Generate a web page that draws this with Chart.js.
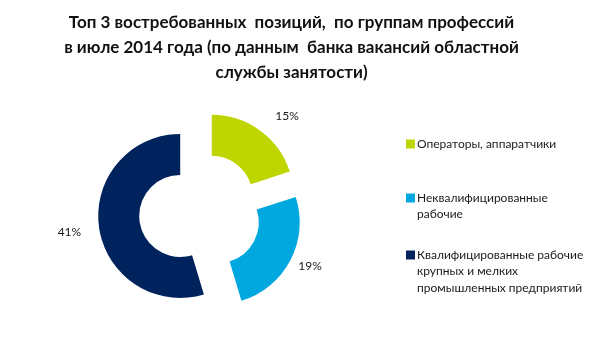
<!DOCTYPE html>
<html lang="ru">
<head>
<meta charset="utf-8">
<script src="https://cdn.jsdelivr.net/npm/chart.js@4"></script>
<style>
  html, body { margin: 0; padding: 0; background: #ffffff; }
  #wrap { position: relative; width: 601px; height: 348px; overflow: hidden; }
  #title {
    position: absolute; left: 0; top: 9px; width: 583px;
    text-align: center; white-space: pre;
    font-family: Lato, sans-serif; font-weight: 700;
    font-size: 17px; line-height: 25px; color: #111111;
  }
  #chart { position: absolute; left: 0; top: 0; }
</style>
</head>
<body>
<div id="wrap">
  <canvas id="chart" width="601" height="348"></canvas>
  <div id="title">Топ 3 востребованных  позиций,  по группам профессий
в июле 2014 года (по данным  банка вакансий областной
службы занятости)</div>
</div>
<script>
// Groups of professions (legend lines) and their share, %
const categories = [
  ["Операторы, аппаратчики"],
  ["Неквалифицированные", "рабочие"],
  ["Квалифицированные рабочие", "крупных и мелких", "промышленных предприятий"],
];
const shares = [15, 19, 41];
const colors = ["#bfd500", "#00a8df", "#00235d"];

// layout constants
const EXPLODE = 20;               // how far each slice is pulled out
const LABEL_DIST = [130, 122, 132];
const LABEL_TURN = [6, -2, 0];    // degrees
const LEGEND_X = 406;
const LEGEND_Y = [144, 198, 255];
const LEGEND_LINE = 16.5;
const TEXT_FONT = '12px Lato, sans-serif';

// pull every slice away from the centre along its middle angle
const explode = {
  id: "explode",
  afterDatasetUpdate(chart, args) {
    args.meta.data.forEach((arc) => {
      const mid = (arc.startAngle + arc.endAngle) / 2;
      arc.x += Math.cos(mid) * EXPLODE;
      arc.y += Math.sin(mid) * EXPLODE;
    });
  },
};

// percent labels outside the ring
const percentLabels = {
  id: "percentLabels",
  afterDatasetsDraw(chart) {
    const ctx = chart.ctx;
    const meta = chart.getDatasetMeta(0);
    const cx = (chart.chartArea.left + chart.chartArea.right) / 2;
    const cy = (chart.chartArea.top + chart.chartArea.bottom) / 2;
    ctx.save();
    ctx.font = TEXT_FONT;
    ctx.fillStyle = "#1a1a1a";
    ctx.textAlign = "center";
    ctx.textBaseline = "middle";
    meta.data.forEach((arc, i) => {
      const a = (arc.startAngle + arc.endAngle) / 2 + (LABEL_TURN[i] * Math.PI) / 180;
      const x = cx + Math.cos(a) * LABEL_DIST[i];
      const y = cy + Math.sin(a) * LABEL_DIST[i];
      ctx.fillText(chart.data.datasets[0].data[i] + "%", x, y);
    });
    ctx.restore();
  },
};

// legend on the right, one coloured square per group
const sideLegend = {
  id: "sideLegend",
  afterDraw(chart) {
    const ctx = chart.ctx;
    const ds = chart.data.datasets[0];
    ctx.save();
    ctx.font = TEXT_FONT;
    ctx.textBaseline = "middle";
    ctx.textAlign = "left";
    chart.data.labels.forEach((lines, i) => {
      const y0 = LEGEND_Y[i];
      ctx.fillStyle = ds.backgroundColor[i];
      ctx.fillRect(LEGEND_X, y0 - 4.5, 9, 9);
      ctx.fillStyle = "#1a1a1a";
      lines.forEach((line, j) => {
        ctx.fillText(line, LEGEND_X + 11, y0 + j * LEGEND_LINE);
      });
    });
    ctx.restore();
  },
};

new Chart(document.getElementById("chart"), {
  type: "doughnut",
  data: {
    labels: categories,
    datasets: [
      {
        data: shares,
        backgroundColor: colors,
        borderWidth: 0,
      },
    ],
  },
  options: {
    responsive: false,
    animation: false,
    events: [],
    radius: 82,
    cutout: "50%",
    layout: { padding: { left: 0, right: 201, top: 100, bottom: 22 } },
    plugins: {
      legend: { display: false },
      tooltip: { enabled: false },
      title: { display: false },
    },
  },
  plugins: [explode, percentLabels, sideLegend],
});
</script>
</body>
</html>
